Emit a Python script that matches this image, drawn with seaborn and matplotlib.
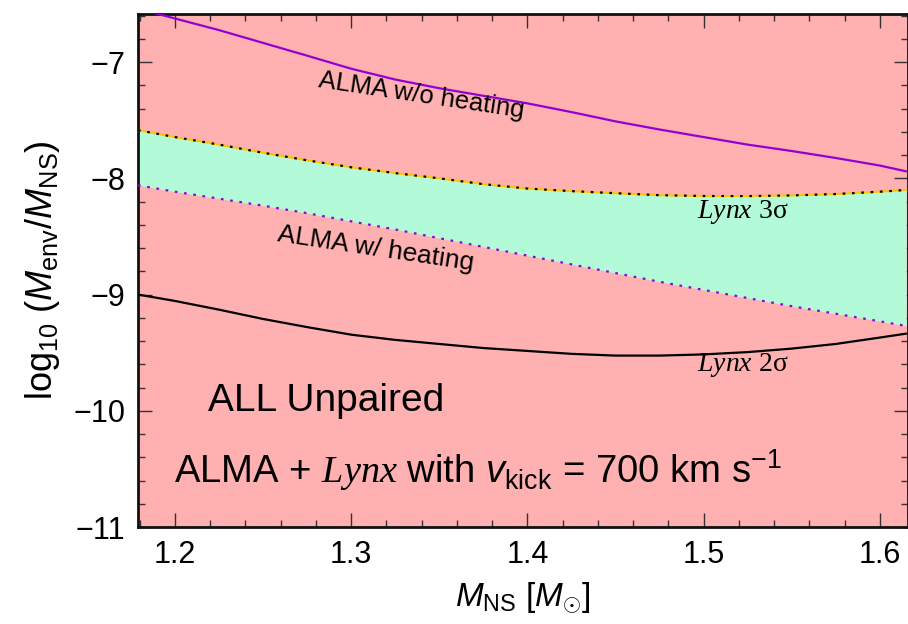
import matplotlib
matplotlib.use("Agg")
import matplotlib.pyplot as plt
from matplotlib.ticker import MultipleLocator
import seaborn as sns
import pandas as pd

# Neutron-star mass grid [M_sun]
m_ns = [1.179, 1.200, 1.225, 1.250, 1.275, 1.300, 1.325, 1.350, 1.375, 1.400,
        1.425, 1.450, 1.475, 1.500, 1.525, 1.550, 1.575, 1.600, 1.615]

# log10(M_env / M_NS) limits
alma_no_heat = [-6.54, -6.625, -6.725, -6.835, -6.945, -7.057, -7.15, -7.225, -7.29, -7.355,
                -7.43, -7.51, -7.58, -7.645, -7.71, -7.765, -7.825, -7.89, -7.94]
lynx_3sigma = [-7.586, -7.645, -7.71, -7.78, -7.845, -7.905, -7.955, -8.00, -8.05, -8.088,
               -8.11, -8.128, -8.145, -8.152, -8.153, -8.147, -8.135, -8.115, -8.10]
alma_heat = [-8.06, -8.115, -8.175, -8.235, -8.30, -8.37, -8.44, -8.515, -8.59, -8.665,
             -8.74, -8.815, -8.89, -8.96, -9.03, -9.10, -9.165, -9.23, -9.27]
lynx_2sigma = [-9.00, -9.055, -9.13, -9.21, -9.28, -9.345, -9.39, -9.425, -9.46, -9.485,
               -9.51, -9.525, -9.525, -9.515, -9.495, -9.465, -9.425, -9.37, -9.336]

df = pd.DataFrame({
    "m": m_ns,
    "no_heat": alma_no_heat,
    "l3": lynx_3sigma,
    "heat": alma_heat,
    "l2": lynx_2sigma,
})

sns.set_theme(style="ticks")
sans = ["Liberation Sans", "DejaVu Sans"]
plt.rcParams["font.family"] = sans
plt.rcParams["text.color"] = "black"
plt.rcParams["axes.labelcolor"] = "black"
plt.rcParams["xtick.color"] = "black"
plt.rcParams["ytick.color"] = "black"
plt.rcParams["mathtext.fontset"] = "custom"
plt.rcParams["mathtext.rm"] = "Liberation Sans"
plt.rcParams["mathtext.it"] = "Liberation Sans:italic"
plt.rcParams["mathtext.sf"] = "Liberation Serif:italic"

PINK = "#ffb0b0"
GREEN = "#b3fbd8"
PURPLE = "#9400d3"

fig = plt.figure(figsize=(9.08, 6.24), dpi=100)
ax = fig.add_axes([0.152, 0.1554, 0.848, 0.8222])
ax.set_facecolor(PINK)

# band allowed by Lynx 3 sigma but excluded by ALMA with heating
ax.fill_between(df["m"], df["heat"], df["l3"], color=GREEN, lw=0, zorder=1)

sns.lineplot(data=df, x="m", y="no_heat", ax=ax, color=PURPLE, lw=1.6, zorder=3)
sns.lineplot(data=df, x="m", y="l3", ax=ax, color="#ffc400", lw=1.5, zorder=3)
sns.lineplot(data=df, x="m", y="l3", ax=ax, color="black", lw=1.6,
             linestyle=(0, (1.2, 3.0)), zorder=4)
sns.lineplot(data=df, x="m", y="heat", ax=ax, color=PURPLE, lw=1.6,
             linestyle=(0, (1.2, 3.0)), zorder=3)
sns.lineplot(data=df, x="m", y="l2", ax=ax, color="black", lw=1.6, zorder=3)

ax.set_xlim(1.179, 1.616)
ax.set_ylim(-11.0, -6.586)

ax.xaxis.set_major_locator(MultipleLocator(0.1))
ax.xaxis.set_minor_locator(MultipleLocator(0.02))
ax.yaxis.set_major_locator(MultipleLocator(1))
ax.yaxis.set_minor_locator(MultipleLocator(0.2))
ax.tick_params(which="both", direction="in", top=True, right=True,
               color="#333333", width=1.0)
ax.tick_params(which="major", length=10, labelsize=22, pad=9)
ax.tick_params(which="minor", length=5)
for s in ax.spines.values():
    s.set_linewidth(2.0)
    s.set_color("#111111")

ax.set_xlabel(r"$M_{\rm NS}\ [M_{\odot}]$", fontsize=24, labelpad=8)
ax.set_ylabel(r"log$_{10}$ ($M_{\rm env}/M_{\rm NS}$)", fontsize=26, labelpad=8)

ax.text(1.340, -7.29, "ALMA w/o heating", fontsize=18.5, rotation=-8.5,
        ha="center", va="center", zorder=5)
ax.text(1.314, -8.61, "ALMA w/ heating", fontsize=19, rotation=-8.5,
        ha="center", va="center", zorder=5)
ax.text(1.522, -8.29, r"$\mathsf{Lynx}$ 3σ", fontsize=20, family="Liberation Serif",
        ha="center", va="center", zorder=5)
ax.text(1.522, -9.61, r"$\mathsf{Lynx}$ 2σ", fontsize=20, family="Liberation Serif",
        ha="center", va="center", zorder=5)
ax.text(1.219, -10.0, "ALL Unpaired", fontsize=28, ha="left", va="baseline", zorder=5)
ax.text(1.1995, -10.62, r"ALMA + $\mathsf{Lynx}$ with $v_{\rm kick}$ = 700 km s$^{-1}$",
        fontsize=27.5, ha="left", va="baseline", zorder=5)

fig.savefig("out.png", dpi=100)
